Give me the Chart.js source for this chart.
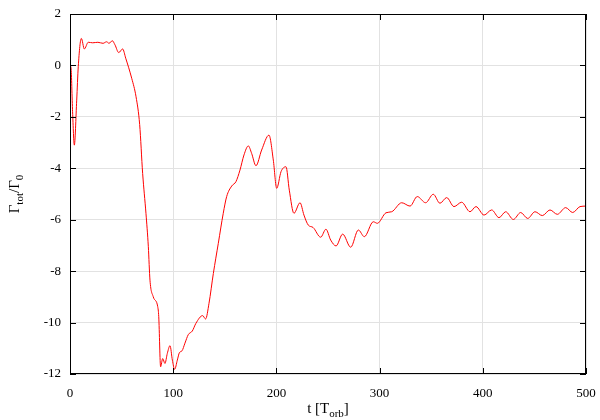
<!DOCTYPE html>
<html><head><meta charset="utf-8">
<script src="https://cdn.jsdelivr.net/npm/chart.js@4"></script>
<style>html,body{margin:0;padding:0;background:#fff}#wrap{width:600px;height:420px}</style>
</head><body><div id="wrap"><canvas id="c" width="600" height="420"></canvas></div>
<script>
const tValues = [0,1,2.5,4.2,6.5,8,11,13.9,17.7,22,27,32,35.5,37.8,41,43.6,47.2,51,54,59.8,64,67.5,70.4,73.6,75.9,77.5,80.7,85,86,87.8,89.8,92,94.3,96.9,99.2,101.4,104,106,108.5,111.4,114.6,118.5,122,128.5,131.4,134.7,138.9,143.7,148.5,151.8,156.7,160.8,164.7,168.6,172.8,176,180.2,185.7,192.8,197,200.3,204.5,209.3,212.5,217,222.9,226.7,230.9,235.5,242.9,248,252.6,257.8,264.2,272,279.4,285.2,293.9,297.8,306.2,311.7,321.4,329.5,336.5,344.6,352,358.5,365,372.1,379.5,387.6,393.4,401.2,408.6,415.7,422.2,429.6,436.7,443.5,450.6,457.7,465.1,472.2,480.3,487.1,494.2,500];
const gammaValues = [0,-0.1,-1.8,-3.1,-1.35,-0.05,1.05,0.64,0.9,0.88,0.9,0.86,0.92,0.86,0.96,0.8,0.5,0.64,0.28,-0.5,-1.22,-2.3,-4.2,-5.75,-7.05,-8.35,-9.0,-9.38,-9.77,-11.72,-11.4,-11.59,-11.2,-10.9,-11.46,-11.82,-11.46,-11.17,-11.1,-10.8,-10.47,-10.33,-10.03,-9.73,-9.86,-9.25,-8.09,-6.92,-5.75,-5.1,-4.69,-4.52,-4.07,-3.48,-3.13,-3.42,-3.9,-3.29,-2.71,-3.68,-4.78,-4.13,-3.94,-4.85,-5.75,-5.34,-5.82,-6.21,-6.3,-6.68,-6.37,-6.79,-7.02,-6.56,-7.07,-6.4,-6.66,-6.08,-6.14,-5.73,-5.69,-5.34,-5.47,-5.1,-5.34,-5.01,-5.36,-5.14,-5.49,-5.32,-5.69,-5.49,-5.82,-5.62,-5.92,-5.69,-5.99,-5.72,-5.95,-5.69,-5.84,-5.62,-5.79,-5.53,-5.72,-5.49,-5.47];
const xTicks = [0,100,200,300,400,500];
const yTicks = [2,0,-2,-4,-6,-8,-10,-12];

const FONT = "'Liberation Serif', 'DejaVu Serif', serif";
const pts = tValues.map((t,i)=>({x:t,y:gammaValues[i]}));

const deco = {
  id:'deco',
  afterDraw(chart){
    const {ctx, chartArea:a, scales:{x,y}} = chart;
    ctx.save();
    ctx.strokeStyle='#000'; ctx.lineWidth=1;
    ctx.beginPath();
    const L=6;
    xTicks.forEach(v=>{const px=Math.round(x.getPixelForValue(v))+0.5;
      ctx.moveTo(px,a.bottom); ctx.lineTo(px,a.bottom-L);
      ctx.moveTo(px,a.top); ctx.lineTo(px,a.top+L);});
    yTicks.forEach(v=>{const py=Math.round(y.getPixelForValue(v))+0.5;
      ctx.moveTo(a.left,py); ctx.lineTo(a.left+L,py);
      ctx.moveTo(a.right,py); ctx.lineTo(a.right-L,py);});
    ctx.stroke();
    ctx.strokeRect(a.left+0.5,a.top+0.5,a.right-a.left-1,a.bottom-a.top-1);
    const big='15px '+FONT, small='11px '+FONT;
    ctx.fillStyle='#000'; ctx.textBaseline='alphabetic';
    function drawParts(parts,cx,cy){
      let w=0; parts.forEach(p=>{ctx.font=p[1]; w+=ctx.measureText(p[0]).width;});
      let xx=cx-w/2;
      parts.forEach(p=>{ctx.font=p[1]; ctx.fillText(p[0],xx,cy+p[2]); xx+=ctx.measureText(p[0]).width;});
    }
    drawParts([['t [T',big,0],['orb',small,4],[']',big,0]],(a.left+a.right)/2,413);
    ctx.translate(19,(a.top+a.bottom)/2);
    ctx.rotate(-Math.PI/2);
    drawParts([['\u0393',big,0],['tot',small,4],['/\u0393',big,0],['0',small,4]],0,0);
    ctx.restore();
  }
};

new Chart(document.getElementById('c'),{
  type:'line',
  data:{datasets:[{data:pts,borderColor:'#ff0000',borderWidth:1,pointRadius:0,fill:false,cubicInterpolationMode:'monotone'}]},
  options:{
    responsive:false,animation:false,
    layout:{padding:{left:0,right:14,top:14,bottom:0}},
    plugins:{legend:{display:false},tooltip:{enabled:false}},
    scales:{
      x:{type:'linear',min:0,max:500,
        afterBuildTicks:s=>{s.ticks=xTicks.map(v=>({value:v}));},
        afterFit:s=>{s.height=46;s.paddingLeft=0;s.paddingRight=0;},
        grid:{color:'#e2e2e2',drawTicks:false},border:{display:false},
        ticks:{color:'#000',padding:12,maxRotation:0,font:{family:FONT,size:13}}},
      y:{type:'linear',min:-12,max:2,
        afterBuildTicks:s=>{s.ticks=yTicks.map(v=>({value:v}));},
        afterFit:s=>{s.width=70;s.paddingTop=0;s.paddingBottom=0;},
        grid:{color:'#e2e2e2',drawTicks:false},border:{display:false},
        ticks:{color:'#000',padding:9,font:{family:FONT,size:13}}}
    }
  },
  plugins:[deco]
});
</script></body></html>
